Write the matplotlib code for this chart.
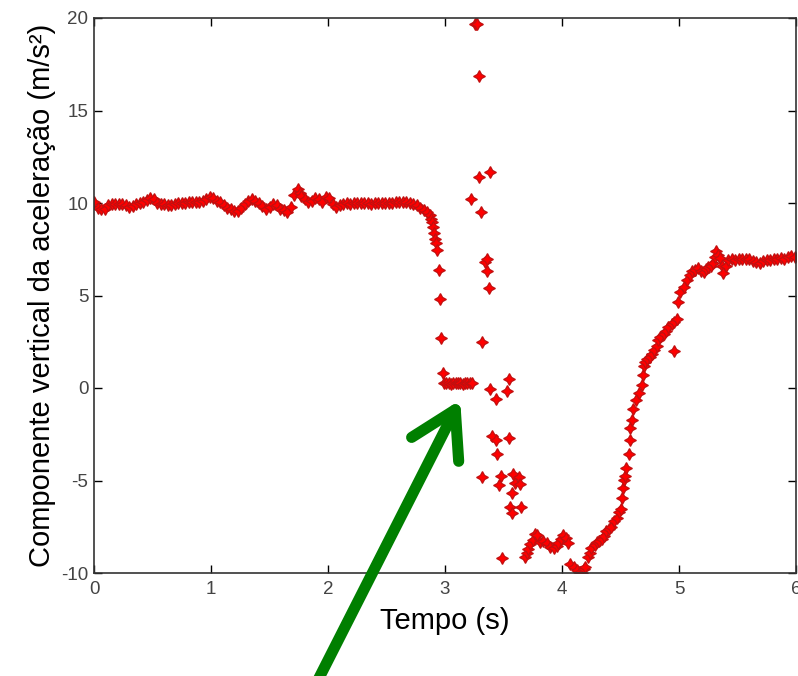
import matplotlib
matplotlib.use("Agg")
import matplotlib.pyplot as plt

# tempo (s) e componente vertical da aceleracao (m/s2)
tempo = [
    0.00, 0.03, 0.06, 0.09, 0.12, 0.15, 0.18, 0.21, 0.24, 0.27,
    0.30, 0.33, 0.36, 0.39, 0.42, 0.45, 0.48, 0.51, 0.54, 0.57,
    0.60, 0.63, 0.66, 0.69, 0.72, 0.75, 0.78, 0.81, 0.84, 0.87,
    0.90, 0.93, 0.96, 0.99, 1.02, 1.05, 1.08, 1.11, 1.14, 1.17,
    1.20, 1.23, 1.26, 1.29, 1.32, 1.35, 1.38, 1.41, 1.44, 1.47,
    1.50, 1.53, 1.56, 1.59, 1.62, 1.65, 1.68, 1.71, 1.74, 1.76,
    1.77, 1.80, 1.83, 1.86, 1.89, 1.92, 1.95, 1.98, 2.01, 2.04,
    2.07, 2.10, 2.13, 2.16, 2.19, 2.22, 2.25, 2.28, 2.31, 2.34,
    2.37, 2.40, 2.43, 2.46, 2.49, 2.52, 2.55, 2.58, 2.61, 2.64,
    2.67, 2.70, 2.73, 2.76, 2.79, 2.82, 2.85, 2.87, 2.88, 2.89,
    2.90, 2.91, 2.915, 2.92, 2.93, 2.945, 2.96, 2.97, 2.985,
    # patamar perto de zero
    2.99, 3.01, 3.03, 3.05, 3.07, 3.09, 3.11, 3.13, 3.15, 3.17,
    3.19, 3.21, 3.23,
    # impacto
    3.22, 3.255, 3.265, 3.27, 3.29, 3.29, 3.31, 3.32, 3.32, 3.34,
    3.36, 3.36, 3.375, 3.385, 3.385, 3.40, 3.436, 3.44, 3.447, 3.464,
    3.476, 3.49, 3.53, 3.547, 3.547, 3.556, 3.57, 3.57, 3.584, 3.60,
    3.63, 3.64, 3.65,
    # vale
    3.68, 3.70, 3.71, 3.73, 3.755, 3.77, 3.79, 3.81, 3.84, 3.87,
    3.90, 3.93, 3.955, 3.97, 3.99, 4.01, 4.03, 4.05, 4.07, 4.10,
    4.125, 4.15, 4.17, 4.19, 4.20, 4.225, 4.24, 4.25, 4.28, 4.30,
    4.32, 4.34, 4.36, 4.38, 4.40, 4.42, 4.445, 4.47, 4.49, 4.50,
    4.51, 4.52, 4.53, 4.54, 4.55, 4.57, 4.58, 4.585, 4.60, 4.61,
    4.635, 4.66, 4.68, 4.695, 4.70, 4.71, 4.73, 4.75, 4.77, 4.79,
    4.81, 4.82, 4.84, 4.87, 4.89, 4.91, 4.94, 4.96, 4.985, 4.96,
    4.99, 5.01, 5.04, 5.065, 5.09, 5.11, 5.14, 5.165, 5.19, 5.21,
    5.23, 5.25, 5.27, 5.29, 5.31, 5.32, 5.335, 5.35, 5.365, 5.38,
    5.40, 5.42, 5.45, 5.48, 5.51, 5.54, 5.57, 5.60, 5.63, 5.66,
    5.69, 5.72, 5.75, 5.78, 5.81, 5.84, 5.87, 5.90, 5.93, 5.96,
    5.99,
]
aceleracao = [
    10.05, 9.75, 9.65, 9.70, 9.90, 9.95, 9.92, 9.97, 9.95, 9.88,
    9.80, 9.85, 9.92, 9.98, 10.05, 10.15, 10.28, 10.20, 10.02, 9.95,
    9.92, 9.88, 9.90, 9.95, 9.98, 10.00, 10.02, 10.06, 10.08, 10.05,
    10.07, 10.10, 10.20, 10.35, 10.25, 10.12, 10.05, 9.90, 9.75, 9.65,
    9.55, 9.58, 9.75, 9.92, 10.10, 10.20, 10.12, 10.00, 9.85, 9.70,
    9.80, 9.95, 9.90, 9.70, 9.62, 9.50, 9.80, 10.45, 10.75, 10.55,
    10.40, 10.20, 10.05, 10.10, 10.25, 10.20, 10.05, 10.30, 10.25, 9.95,
    9.80, 9.88, 9.95, 9.98, 9.95, 10.00, 10.00, 9.98, 10.02, 10.00,
    9.97, 10.00, 9.98, 10.02, 10.00, 9.98, 10.02, 10.05, 10.08, 10.08,
    10.05, 10.02, 9.95, 9.88, 9.75, 9.62, 9.50, 9.35, 9.15, 8.95,
    8.70, 8.40, 8.05, 7.85, 7.45, 6.40, 4.80, 2.70, 0.80,
    0.25, 0.26, 0.25, 0.24, 0.25, 0.26, 0.25, 0.25, 0.24, 0.25,
    0.26, 0.25, 0.25,
    10.20, 19.70, 19.65, 19.70, 16.85, 11.42, 9.50, 2.50, -4.83, 6.83,
    7.00, 6.30, 5.38, 11.70, -0.07, -2.59, -2.81, -0.60, -3.59, -5.26,
    -4.74, -9.21, -0.18, 0.47, -2.72, -6.45, -5.70, -6.77, -4.65, -5.16,
    -4.83, -5.19, -6.45,
    -9.15, -8.90, -8.70, -8.45, -8.20, -7.90, -7.95, -8.30, -8.25, -8.40,
    -8.60, -8.65, -8.55, -8.40, -8.15, -7.95, -8.10, -8.40, -9.50, -9.70,
    -9.85, -9.95, -10.00, -9.80, -9.65, -9.12, -8.90, -8.67, -8.50, -8.30,
    -8.25, -8.15, -8.00, -7.75, -7.60, -7.50, -7.20, -7.00, -6.70, -6.55,
    -5.96, -5.42, -4.97, -4.75, -4.34, -3.58, -2.80, -2.18, -1.73, -1.15,
    -0.65, -0.29, 0.16, 0.70, 1.20, 1.40, 1.55, 1.65, 1.85, 2.05,
    2.25, 2.60, 2.75, 2.90, 3.10, 3.30, 3.45, 3.55, 3.75, 2.02,
    4.67, 5.20, 5.48, 5.84, 6.10, 6.30, 6.40, 6.47, 6.35, 6.28,
    6.45, 6.56, 6.60, 6.74, 7.10, 7.40, 7.20, 7.05, 6.60, 6.20,
    6.60, 6.90, 6.95, 6.90, 6.95, 7.00, 7.00, 6.95, 6.85, 6.80,
    6.75, 6.85, 6.90, 6.92, 6.95, 7.00, 7.05, 7.00, 7.10, 7.12,
    7.08,
]

xticks = [0, 1, 2, 3, 4, 5, 6]
yticks = [-10, -5, 0, 5, 10, 15, 20]

plt.rcParams['font.family'] = ['Liberation Sans', 'DejaVu Sans']
plt.rcParams['axes.unicode_minus'] = False

fig = plt.figure(figsize=(7.98, 6.76), dpi=100)
ax = fig.add_axes([94 / 798, 103 / 676, 702 / 798, 555 / 676])

ax.plot(tempo, aceleracao, linestyle='none', marker=(4, 1, 0), markersize=8.5,
        color='#ff0000', markeredgecolor='#c01010', markeredgewidth=0.9)

ax.set_xlim(0, 6)
ax.set_ylim(-10, 20)
ax.set_xticks(xticks)
ax.set_yticks(yticks)
ax.tick_params(direction='in', top=True, right=True, length=6, width=1,
               labelsize=13.5, labelcolor='#444444', pad=6)
ax.tick_params(axis='y', pad=4)
for s in ax.spines.values():
    s.set_linewidth(1.2)
    s.set_color('#333333')

ax.set_xlabel('Tempo (s)', fontsize=21, labelpad=6)
ax.set_ylabel('Componente vertical da aceleração (m/s²)', fontsize=21, labelpad=4)

# seta verde apontando o patamar
ax.annotate('', xy=(3.13, -0.65), xycoords='data',
            xytext=(318, -4), textcoords='figure pixels',
            arrowprops=dict(arrowstyle='->,head_length=1.6,head_width=0.95',
                            mutation_scale=20, color='#007f00', lw=8,
                            shrinkA=0, shrinkB=0),
            annotation_clip=False)

fig.savefig('out.png', dpi=100)
